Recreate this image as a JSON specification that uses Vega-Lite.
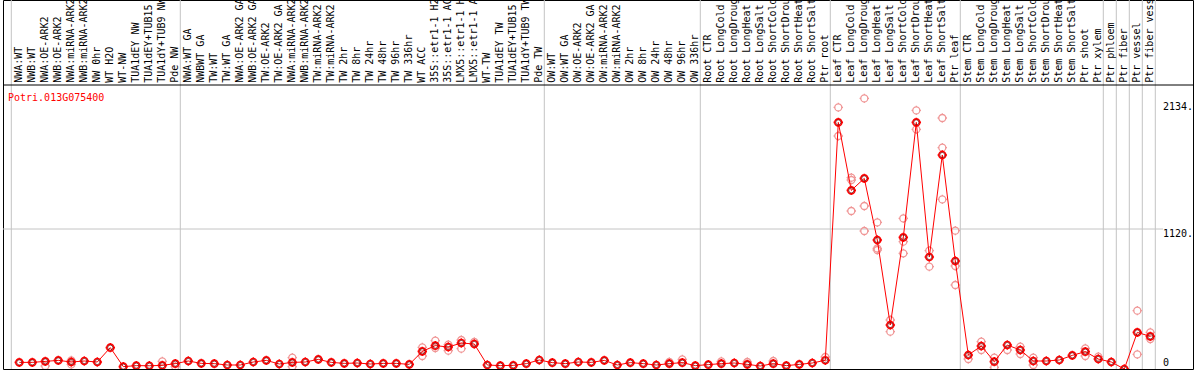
{
  "$schema": "https://vega.github.io/schema/vega-lite/v6.json",
  "width": 1190,
  "height": 369,
  "autosize": {"type": "none"},
  "padding": {"left": 3, "top": 0, "right": 1, "bottom": 1},
  "background": "white",
  "config": {"view": {"stroke": "#000000", "strokeWidth": 1}, "font": "DejaVu Sans Mono"},
  "datasets": {
    "samples": [
      {"idx": 1, "label": "NWA:WT", "mean": 53},
      {"idx": 2, "label": "NWB:WT", "mean": 53},
      {"idx": 3, "label": "NWA:OE-ARK2", "mean": 61},
      {"idx": 4, "label": "NWB:OE-ARK2", "mean": 69},
      {"idx": 5, "label": "NWA:miRNA-ARK2", "mean": 56},
      {"idx": 6, "label": "NWB:miRNA-ARK2", "mean": 64},
      {"idx": 7, "label": "NW 0hr", "mean": 56},
      {"idx": 8, "label": "WT H2O", "mean": 171},
      {"idx": 9, "label": "WT-NW", "mean": 19},
      {"idx": 10, "label": "TUA1dEY NW", "mean": 27},
      {"idx": 11, "label": "TUA1dEY+TUB15 NW", "mean": 26},
      {"idx": 12, "label": "TUA1dY+TUB9 NW", "mean": 29},
      {"idx": 13, "label": "Pde NW", "mean": 43},
      {"idx": 14, "label": "NWA:WT GA", "mean": 64},
      {"idx": 15, "label": "NWBWT GA", "mean": 45},
      {"idx": 16, "label": "TW:WT", "mean": 43},
      {"idx": 17, "label": "TW:WT GA", "mean": 32},
      {"idx": 18, "label": "NWA:OE-ARK2 GA", "mean": 32},
      {"idx": 19, "label": "NWB:OE-ARK2 GA", "mean": 56},
      {"idx": 20, "label": "TW:OE-ARK2", "mean": 69},
      {"idx": 21, "label": "TW:OE-ARK2 GA", "mean": 40},
      {"idx": 22, "label": "NWA:miRNA-ARK2 GA", "mean": 53},
      {"idx": 23, "label": "NWB:miRNA-ARK2 GA", "mean": 56},
      {"idx": 24, "label": "TW:miRNA-ARK2", "mean": 77},
      {"idx": 25, "label": "TW:miRNA-ARK2 GA", "mean": 53},
      {"idx": 26, "label": "TW 2hr", "mean": 45},
      {"idx": 27, "label": "TW 8hr", "mean": 48},
      {"idx": 28, "label": "TW 24hr", "mean": 40},
      {"idx": 29, "label": "TW 48hr", "mean": 45},
      {"idx": 30, "label": "TW 96hr", "mean": 45},
      {"idx": 31, "label": "TW 336hr", "mean": 37},
      {"idx": 32, "label": "WT ACC", "mean": 141},
      {"idx": 33, "label": "35S::etr1-1 H2O", "mean": 187},
      {"idx": 34, "label": "35S::etr1-1 ACC", "mean": 176},
      {"idx": 35, "label": "LMX5::etr1-1 H2O", "mean": 208},
      {"idx": 36, "label": "LMX5::etr1-1 ACC", "mean": 200},
      {"idx": 37, "label": "WT-TW", "mean": 32},
      {"idx": 38, "label": "TUA1dEY TW", "mean": 27},
      {"idx": 39, "label": "TUA1dEY+TUB15 TW", "mean": 29},
      {"idx": 40, "label": "TUA1dY+TUB9 TW", "mean": 43},
      {"idx": 41, "label": "Pde TW", "mean": 72},
      {"idx": 42, "label": "OW:WT", "mean": 51},
      {"idx": 43, "label": "OW:WT GA", "mean": 43},
      {"idx": 44, "label": "OW:OE-ARK2", "mean": 56},
      {"idx": 45, "label": "OW:OE-ARK2 GA", "mean": 53},
      {"idx": 46, "label": "OW:miRNA-ARK2", "mean": 69},
      {"idx": 47, "label": "OW:miRNA-ARK2", "mean": 32},
      {"idx": 48, "label": "OW 2hr", "mean": 51},
      {"idx": 49, "label": "OW 8hr", "mean": 43},
      {"idx": 50, "label": "OW 24hr", "mean": 32},
      {"idx": 51, "label": "OW 48hr", "mean": 43},
      {"idx": 52, "label": "OW 96hr", "mean": 51},
      {"idx": 53, "label": "OW 336hr", "mean": 27},
      {"idx": 54, "label": "Root CTR", "mean": 35},
      {"idx": 55, "label": "Root LongCold", "mean": 43},
      {"idx": 56, "label": "Root LongDrought", "mean": 48},
      {"idx": 57, "label": "Root LongHeat", "mean": 37},
      {"idx": 58, "label": "Root LongSalt", "mean": 24},
      {"idx": 59, "label": "Root ShortCold", "mean": 43},
      {"idx": 60, "label": "Root ShortDrought", "mean": 27},
      {"idx": 61, "label": "Root ShortHeat", "mean": 37},
      {"idx": 62, "label": "Root ShortSalt", "mean": 48},
      {"idx": 63, "label": "Ptr root", "mean": 70},
      {"idx": 64, "label": "Leaf CTR", "mean": 1973},
      {"idx": 65, "label": "Leaf LongCold", "mean": 1429},
      {"idx": 66, "label": "Leaf LongDrought", "mean": 1525},
      {"idx": 67, "label": "Leaf LongHeat", "mean": 1032},
      {"idx": 68, "label": "Leaf LongSalt", "mean": 352},
      {"idx": 69, "label": "Leaf ShortCold", "mean": 1053},
      {"idx": 70, "label": "Leaf ShortDrought", "mean": 1973},
      {"idx": 71, "label": "Leaf ShortHeat", "mean": 896},
      {"idx": 72, "label": "Leaf ShortSalt", "mean": 1712},
      {"idx": 73, "label": "Ptr leaf", "mean": 864},
      {"idx": 74, "label": "Stem CTR", "mean": 112},
      {"idx": 75, "label": "Stem LongCold", "mean": 184},
      {"idx": 76, "label": "Stem LongDrought", "mean": 59},
      {"idx": 77, "label": "Stem LongHeat", "mean": 192},
      {"idx": 78, "label": "Stem LongSalt", "mean": 152},
      {"idx": 79, "label": "Stem ShortCold", "mean": 64},
      {"idx": 80, "label": "Stem ShortDrought", "mean": 64},
      {"idx": 81, "label": "Stem ShortHeat", "mean": 72},
      {"idx": 82, "label": "Stem ShortSalt", "mean": 109},
      {"idx": 83, "label": "Ptr shoot", "mean": 139},
      {"idx": 84, "label": "Ptr xylem", "mean": 80},
      {"idx": 85, "label": "Ptr phloem", "mean": 56},
      {"idx": 86, "label": "Ptr fiber", "mean": 0},
      {"idx": 87, "label": "Ptr vessel", "mean": 293},
      {"idx": 88, "label": "Ptr fiber vessel", "mean": 261}
    ],
    "reps": [
      {"idx": 3, "value": 24},
      {"idx": 5, "value": 69}, {"idx": 5, "value": 37},
      {"idx": 12, "value": 61},
      {"idx": 13, "value": 19},
      {"idx": 22, "value": 19}, {"idx": 22, "value": 91},
      {"idx": 32, "value": 173}, {"idx": 32, "value": 104},
      {"idx": 33, "value": 227}, {"idx": 33, "value": 168},
      {"idx": 34, "value": 147}, {"idx": 34, "value": 195},
      {"idx": 35, "value": 232}, {"idx": 35, "value": 163},
      {"idx": 36, "value": 216},
      {"idx": 51, "value": 56},
      {"idx": 52, "value": 77},
      {"idx": 55, "value": 61},
      {"idx": 57, "value": 56},
      {"idx": 59, "value": 64},
      {"idx": 63, "value": 96},
      {"idx": 64, "value": 2093}, {"idx": 64, "value": 1864},
      {"idx": 65, "value": 1531}, {"idx": 65, "value": 1512}, {"idx": 65, "value": 1264},
      {"idx": 66, "value": 2165}, {"idx": 66, "value": 1304}, {"idx": 66, "value": 1104},
      {"idx": 67, "value": 1173}, {"idx": 67, "value": 965}, {"idx": 67, "value": 952},
      {"idx": 68, "value": 392}, {"idx": 68, "value": 299},
      {"idx": 69, "value": 1205}, {"idx": 69, "value": 1019}, {"idx": 69, "value": 925},
      {"idx": 70, "value": 2069}, {"idx": 70, "value": 1917},
      {"idx": 71, "value": 947}, {"idx": 71, "value": 819},
      {"idx": 72, "value": 2008}, {"idx": 72, "value": 1771}, {"idx": 72, "value": 1357},
      {"idx": 73, "value": 1107}, {"idx": 73, "value": 824}, {"idx": 73, "value": 672},
      {"idx": 74, "value": 80},
      {"idx": 75, "value": 219}, {"idx": 75, "value": 152},
      {"idx": 76, "value": 91}, {"idx": 76, "value": 13},
      {"idx": 77, "value": 152},
      {"idx": 78, "value": 179}, {"idx": 78, "value": 120},
      {"idx": 79, "value": 91}, {"idx": 79, "value": 32},
      {"idx": 83, "value": 165}, {"idx": 83, "value": 104},
      {"idx": 84, "value": 99},
      {"idx": 87, "value": 467}, {"idx": 87, "value": 117},
      {"idx": 88, "value": 293}, {"idx": 88, "value": 240}
    ],
    "seps": [
      {"boundary": 0.385}, {"boundary": 13.385}, {"boundary": 41.385}, {"boundary": 53.385},
      {"boundary": 63.385}, {"boundary": 73.385}, {"boundary": 84.385}, {"boundary": 85.385},
      {"boundary": 86.385}, {"boundary": 87.385}, {"boundary": 88.385}
    ],
    "yticks": [
      {"tick": 1120, "text": "1120."},
      {"tick": 2134, "text": "2134."}
    ],
    "yzero": [
      {"tick": 0, "text": "0"}
    ]
  },
  "layer": [
    {
      "data": {"name": "seps"},
      "mark": {"type": "rule", "color": "#c4c4c4", "strokeWidth": 1},
      "encoding": {
        "x": {"field": "boundary", "type": "quantitative", "scale": {"domain": [-0.2538, 91.2846], "nice": false, "zero": false}, "axis": null}
      }
    },
    {
      "data": {"values": [{"level": 1120}]},
      "mark": {"type": "rule", "color": "#c4c4c4", "strokeWidth": 1},
      "encoding": {
        "y": {"field": "level", "type": "quantitative", "scale": {"domain": [0, 2952], "nice": false, "zero": false}, "axis": null},
        "x": {"datum": -0.2538, "type": "quantitative", "axis": null},
        "x2": {"datum": 88.98}
      }
    },
    {
      "data": {"values": [{"edge": 2272}]},
      "mark": {"type": "rule", "color": "#000000", "strokeWidth": 1},
      "encoding": {
        "y": {"field": "edge", "type": "quantitative", "axis": null}
      }
    },
    {
      "data": {"name": "samples"},
      "mark": {"type": "text", "angle": 270, "align": "left", "baseline": "middle", "font": "DejaVu Sans Mono", "fontSize": 10, "color": "#000000"},
      "encoding": {
        "x": {"field": "idx", "type": "quantitative", "axis": null},
        "y": {"datum": 2290, "type": "quantitative", "axis": null},
        "text": {"field": "label"}
      }
    },
    {
      "data": {"values": [{"gene": "Potri.013G075400"}]},
      "mark": {"type": "text", "align": "left", "baseline": "alphabetic", "font": "DejaVu Sans Mono", "fontSize": 10, "color": "#ff0000"},
      "encoding": {
        "x": {"datum": 0.1308, "type": "quantitative", "axis": null},
        "y": {"datum": 2144, "type": "quantitative", "axis": null},
        "text": {"field": "gene"}
      }
    },
    {
      "data": {"name": "yticks"},
      "mark": {"type": "text", "align": "left", "baseline": "top", "font": "DejaVu Sans Mono", "fontSize": 10, "color": "#000000"},
      "encoding": {
        "x": {"datum": 88.977, "type": "quantitative", "axis": null},
        "y": {"field": "tick", "type": "quantitative", "axis": null},
        "text": {"field": "text"}
      }
    },
    {
      "data": {"name": "yzero"},
      "mark": {"type": "text", "align": "left", "baseline": "bottom", "dy": -1, "font": "DejaVu Sans Mono", "fontSize": 10, "color": "#000000"},
      "encoding": {
        "x": {"datum": 88.977, "type": "quantitative", "axis": null},
        "y": {"field": "tick", "type": "quantitative", "axis": null},
        "text": {"field": "text"}
      }
    },
    {
      "data": {"name": "reps"},
      "mark": {"type": "point", "shape": "M1,0A1,1,0,1,1,-1,0A1,1,0,1,1,1,0M0,-1L0,-1.35M0,1L0,1.35M-1,0L-1.35,0M1,0L1.35,0", "size": 49, "filled": false, "stroke": "#f09696", "strokeWidth": 1.3, "opacity": 1, "clip": true},
      "encoding": {
        "x": {"field": "idx", "type": "quantitative", "axis": null},
        "y": {"field": "value", "type": "quantitative", "axis": null}
      }
    },
    {
      "data": {"name": "samples"},
      "mark": {"type": "line", "color": "#ff0000", "strokeWidth": 1, "clip": true},
      "encoding": {
        "x": {"field": "idx", "type": "quantitative", "axis": null},
        "y": {"field": "mean", "type": "quantitative", "axis": null}
      }
    },
    {
      "data": {"name": "samples"},
      "mark": {"type": "point", "shape": "M1,0A1,1,0,1,1,-1,0A1,1,0,1,1,1,0M0,-1L0,-1.35M0,1L0,1.35M-1,0L-1.35,0M1,0L1.35,0", "size": 49, "filled": false, "stroke": "#ff0000", "strokeWidth": 1.6, "opacity": 1, "clip": true},
      "encoding": {
        "x": {"field": "idx", "type": "quantitative", "axis": null},
        "y": {"field": "mean", "type": "quantitative", "axis": null}
      }
    },
    {
      "data": {"name": "samples"},
      "mark": {"type": "point", "shape": "circle", "size": 26, "filled": false, "stroke": "#700000", "strokeWidth": 0.7, "opacity": 1, "clip": true},
      "encoding": {
        "x": {"field": "idx", "type": "quantitative", "axis": null},
        "y": {"field": "mean", "type": "quantitative", "axis": null}
      }
    }
  ]
}
